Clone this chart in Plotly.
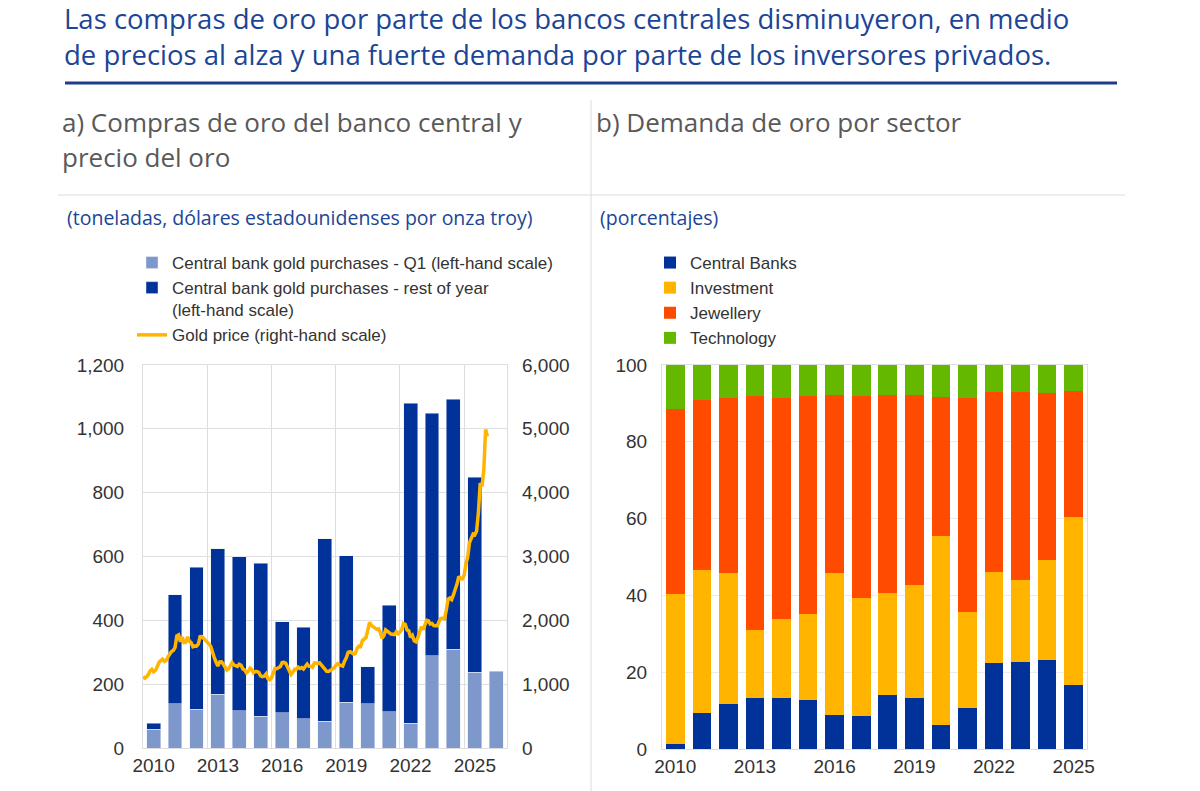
import plotly.graph_objects as go
import pandas as pd

# ---- panel a: central bank gold purchases (tonnes) and gold price (USD/oz)
years_a = list(range(2010, 2027))
cb_q1 = [58, 138, 122, 169, 117, 99, 110, 92, 84, 143, 138, 114, 78, 289, 310, 237, 241]
cb_total = [78, 480, 566, 625, 600, 579, 395, 378, 656, 603, 254, 447, 1080, 1049, 1093, 848, None]
cb_rest = [t - q if t is not None else None for t, q in zip(cb_total, cb_q1)]

# monthly gold price, Jan 2010 onwards
gold_price = [
    1117, 1095, 1113, 1148, 1205, 1232, 1193, 1215, 1271, 1343, 1370, 1391,
    1356, 1372, 1424, 1474, 1510, 1528, 1573, 1756, 1772, 1665, 1739, 1652,
    1656, 1742, 1673, 1650, 1585, 1596, 1594, 1626, 1744, 1747, 1721, 1688,
    1671, 1627, 1593, 1487, 1414, 1343, 1286, 1347, 1349, 1316, 1275, 1221,
    1244, 1300, 1336, 1299, 1287, 1279, 1311, 1296, 1239, 1222, 1176, 1200,
    1251, 1227, 1178, 1198, 1199, 1181, 1131, 1117, 1125, 1159, 1086, 1068,
    1097, 1199, 1246, 1242, 1260, 1276, 1337, 1341, 1326, 1267, 1236, 1152,
    1192, 1234, 1231, 1266, 1246, 1260, 1237, 1283, 1315, 1280, 1282, 1265,
    1331, 1331, 1325, 1335, 1303, 1282, 1238, 1202, 1199, 1215, 1221, 1250,
    1291, 1320, 1301, 1286, 1284, 1359, 1413, 1500, 1510, 1495, 1471, 1479,
    1560, 1597, 1592, 1683, 1716, 1732, 1847, 1968, 1922, 1900, 1866, 1858,
    1867, 1808, 1718, 1760, 1850, 1834, 1807, 1785, 1776, 1777, 1821, 1790,
    1817, 1856, 1948, 1937, 1849, 1837, 1733, 1765, 1681, 1665, 1726, 1798,
    1898, 1855, 1913, 2000, 1992, 1943, 1951, 1918, 1916, 1916, 1985, 2031,
    2034, 2023, 2158, 2331, 2351, 2326, 2398, 2470, 2571, 2690, 2651, 2648,
    2709, 2895, 2984, 3218, 3280, 3352, 3340, 3400, 3700, 4150, 4100, 4350,
    4990, 4880,
]
gold_dates = pd.date_range("2010-01-01", periods=len(gold_price), freq="MS")

# ---- panel b: gold demand by sector (percent)
years_b = list(range(2010, 2026))
central_banks = [1.2, 9.5, 11.6, 13.4, 13.4, 12.8, 8.9, 8.5, 14.1, 13.4, 6.3, 10.6, 22.5, 22.7, 23.2, 16.7]
investment = [39.1, 37.2, 34.3, 17.5, 20.4, 22.4, 37.0, 30.7, 26.5, 29.4, 49.3, 25.0, 23.7, 21.4, 25.9, 43.8]
jewellery = [48.3, 44.1, 45.6, 61.1, 57.7, 56.7, 46.3, 52.7, 51.7, 49.5, 36.1, 55.9, 46.9, 48.9, 43.5, 32.8]
technology = [11.4, 9.2, 8.5, 8.0, 8.5, 8.1, 7.8, 8.1, 7.7, 7.7, 8.3, 8.5, 6.9, 7.0, 7.4, 6.7]

DARK_BLUE = "#003299"
LIGHT_BLUE = "#7f98cc"
YELLOW = "#ffb400"
ORANGE = "#ff4b00"
GREEN = "#65b800"
GRID = "#dedede"
TXT = "#333333"

W, H = 1200, 791
PAGE_OFFSET = 8  # the page body margin shifts the figure by this much


def px_x(v):
    return (v - PAGE_OFFSET) / W


def px_y(v):
    return 1 - (v - PAGE_OFFSET) / H


mid_year = [pd.Timestamp(f"{y}-07-01") for y in years_a]
bar_w = 0.65 * 365.25 * 24 * 3600 * 1000

fig = go.Figure()

fig.add_trace(go.Bar(
    x=mid_year, y=cb_q1, width=bar_w, marker_color=LIGHT_BLUE,
    name="Central bank gold purchases - Q1 (left-hand scale)",
    xaxis="x", yaxis="y", legend="legend",
))
fig.add_trace(go.Bar(
    x=mid_year, y=cb_rest, width=bar_w, marker_color=DARK_BLUE,
    name="Central bank gold purchases - rest of year<br>(left-hand scale)",
    xaxis="x", yaxis="y", legend="legend",
))
fig.add_trace(go.Scatter(
    x=gold_dates, y=gold_price, mode="lines",
    line=dict(color=YELLOW, width=3.5),
    name="Gold price (right-hand scale)",
    xaxis="x", yaxis="y2", legend="legend",
))

for vals, name, col in [
    (central_banks, "Central Banks", DARK_BLUE),
    (investment, "Investment", YELLOW),
    (jewellery, "Jewellery", ORANGE),
    (technology, "Technology", GREEN),
]:
    fig.add_trace(go.Bar(
        x=[str(y) for y in years_b], y=vals, name=name, marker_color=col,
        marker_line_width=0, xaxis="x3", yaxis="y3", legend="legend2",
    ))

tick_years = [2010, 2013, 2016, 2019, 2022, 2025]
axis_font = dict(family="Liberation Sans, Arial, sans-serif", size=19, color=TXT)
legend_font = dict(family="Liberation Sans, Arial, sans-serif", size=17, color=TXT)

fig.update_layout(
    width=W, height=H,
    margin=dict(l=0, r=0, t=0, b=0, autoexpand=False),
    paper_bgcolor="white", plot_bgcolor="white",
    barmode="stack",
    bargap=0.3,
    font=axis_font,
    xaxis=dict(
        domain=[px_x(143), px_x(507)], anchor="y", type="date", automargin=False,
        range=["2010-01-01", "2027-01-01"],
        tickvals=[f"{y}-07-01" for y in tick_years],
        ticktext=[str(y) for y in tick_years],
        showgrid=False, ticks="", tickfont=axis_font,
        showline=True, linecolor=GRID, mirror=True,
        minor=dict(tickvals=[f"{y}-01-01" for y in tick_years],
                   showgrid=True, gridcolor=GRID, ticks=""),
    ),
    yaxis=dict(
        domain=[px_y(748), px_y(365)], anchor="x", automargin=False,
        range=[0, 1200], dtick=200, tickformat=",",
        gridcolor=GRID, zeroline=False, ticklabelstandoff=14,
        showline=True, linecolor=GRID, mirror=True,
    ),
    yaxis2=dict(
        overlaying="y", side="right", anchor="x", automargin=False,
        range=[0, 6000], dtick=1000, tickformat=",",
        showgrid=False, zeroline=False, ticklabelstandoff=14,
    ),
    xaxis3=dict(
        domain=[px_x(662), px_x(1087)], anchor="y3", type="category", automargin=False,
        tickvals=[str(y) for y in tick_years],
        ticktext=[str(y) for y in tick_years],
        showgrid=False, ticks="",
        showline=True, linecolor=GRID, mirror=True,
    ),
    yaxis3=dict(
        domain=[px_y(749), px_y(365)], anchor="x3", automargin=False,
        range=[0, 100], dtick=20,
        gridcolor="#ececec", zeroline=False, ticklabelstandoff=10,
        showline=True, linecolor=GRID, mirror=True,
    ),
    legend=dict(
        x=px_x(132), y=px_y(245), xanchor="left", yanchor="top",
        traceorder="normal", bgcolor="rgba(0,0,0,0)", valign="top",
        font=legend_font, tracegroupgap=0,
    ),
    legend2=dict(
        x=px_x(650), y=px_y(245), xanchor="left", yanchor="top",
        traceorder="normal", bgcolor="rgba(0,0,0,0)", valign="top",
        font=legend_font, tracegroupgap=0,
    ),
)

# ---- headings and texts
BLUE_TXT = "#1b4596"
GREY_TXT = "#595959"
title = ("Las compras de oro por parte de los bancos centrales disminuyeron, en medio<br>"
         "de precios al alza y una fuerte demanda por parte de los inversores privados.")
fig.add_annotation(
    text=title, x=px_x(63), y=px_y(37), xref="paper", yref="paper",
    xanchor="left", yanchor="middle", align="left", showarrow=False, borderpad=0,
    font=dict(family="Open Sans, sans-serif", size=27.5, color=BLUE_TXT),
)

texts = [
    ("a) Compras de oro del banco central y", 61, 122, 26, GREY_TXT),
    ("precio del oro", 61, 157, 26, GREY_TXT),
    ("b) Demanda de oro por sector", 595, 122, 26, GREY_TXT),
    ("(toneladas, dólares estadounidenses por onza troy)", 66, 218, 19.5, BLUE_TXT),
    ("(porcentajes)", 599, 218, 19.5, BLUE_TXT),
]
for txt, x, y, size, col in texts:
    fig.add_annotation(
        text=txt, x=px_x(x), y=px_y(y), xref="paper", yref="paper",
        xanchor="left", yanchor="middle", showarrow=False, borderpad=0,
        font=dict(family="Open Sans, sans-serif", size=size, color=col),
    )

# ---- separator lines
fig.add_shape(type="line", xref="paper", yref="paper",
              x0=px_x(65), x1=px_x(1117), y0=px_y(83), y1=px_y(83),
              line=dict(color="#1f3d8a", width=3))
fig.add_shape(type="line", xref="paper", yref="paper",
              x0=px_x(58), x1=px_x(1125), y0=px_y(195), y1=px_y(195),
              line=dict(color="#dcdcdc", width=1))
fig.add_shape(type="line", xref="paper", yref="paper",
              x0=px_x(591), x1=px_x(591), y0=px_y(100), y1=0,
              line=dict(color="#dcdcdc", width=1))

fig.write_html("out.html")
